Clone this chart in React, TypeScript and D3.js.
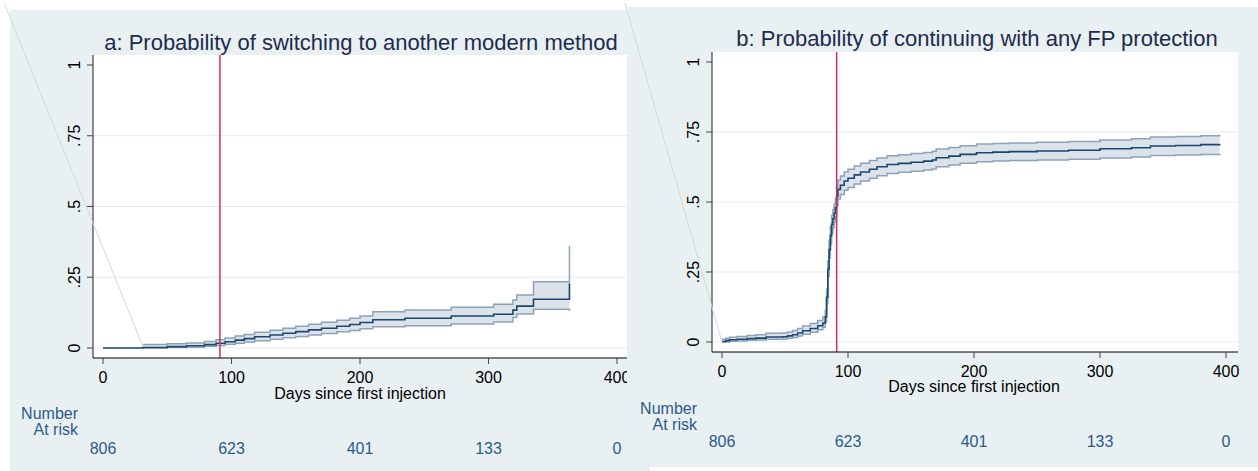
import React from "react";
import * as d3 from "d3";

// Panel a: cumulative probability of switching to another modern method
const switchDays = [0, 31, 50, 65, 79, 88, 95, 103, 110, 118, 130, 140, 150, 160, 170, 182, 192, 200, 210, 235, 271, 304, 319, 322, 335, 363];
const switchEst = [0, 0.002, 0.005, 0.008, 0.012, 0.017, 0.022, 0.028, 0.033, 0.04, 0.046, 0.052, 0.058, 0.064, 0.07, 0.077, 0.083, 0.09, 0.1, 0.105, 0.113, 0.119, 0.134, 0.148, 0.172, 0.229];
const switchLo = [null, 0.0, 0.002, 0.003, 0.006, 0.009, 0.013, 0.017, 0.021, 0.026, 0.031, 0.036, 0.041, 0.046, 0.051, 0.057, 0.062, 0.068, 0.075, 0.079, 0.085, 0.092, 0.108, 0.12, 0.137, 0.131];
const switchHi = [null, 0.012, 0.015, 0.018, 0.023, 0.029, 0.035, 0.042, 0.048, 0.056, 0.063, 0.07, 0.077, 0.084, 0.091, 0.098, 0.105, 0.113, 0.128, 0.134, 0.144, 0.155, 0.17, 0.187, 0.234, 0.36];

// Panel b: cumulative probability of continuing with any FP protection
const contDays = [0, 3, 6, 12, 20, 27, 35, 48, 52, 56, 60, 64, 70, 76, 80, 82, 83, 84, 85, 86, 87, 88, 89, 90, 91, 92, 94, 97, 100, 105, 110, 117, 123, 131, 140, 150, 160, 167, 170, 180, 189, 202, 215, 228, 250, 275, 300, 325, 340, 360, 380, 395];
const contEst = [0.002, 0.005, 0.008, 0.01, 0.012, 0.014, 0.018, 0.019, 0.022, 0.026, 0.032, 0.04, 0.048, 0.058, 0.068, 0.09, 0.16, 0.26, 0.33, 0.38, 0.42, 0.44, 0.46, 0.48, 0.52, 0.545, 0.56, 0.575, 0.585, 0.597, 0.607, 0.617, 0.626, 0.634, 0.638, 0.642, 0.646, 0.65, 0.658, 0.664, 0.67, 0.676, 0.678, 0.68, 0.682, 0.685, 0.69, 0.694, 0.7, 0.702, 0.705, 0.707];
const contLo = [0.0, 0.001, 0.003, 0.004, 0.006, 0.007, 0.01, 0.011, 0.013, 0.016, 0.021, 0.028, 0.035, 0.044, 0.052, 0.072, 0.137, 0.233, 0.3, 0.35, 0.389, 0.408, 0.428, 0.447, 0.487, 0.511, 0.527, 0.542, 0.552, 0.564, 0.575, 0.585, 0.594, 0.602, 0.606, 0.61, 0.614, 0.618, 0.626, 0.632, 0.638, 0.644, 0.646, 0.648, 0.65, 0.653, 0.657, 0.661, 0.666, 0.668, 0.67, 0.672];
const contHi = [0.01, 0.013, 0.017, 0.02, 0.023, 0.026, 0.031, 0.032, 0.036, 0.041, 0.048, 0.057, 0.066, 0.077, 0.089, 0.113, 0.188, 0.29, 0.363, 0.412, 0.452, 0.472, 0.492, 0.513, 0.553, 0.578, 0.593, 0.607, 0.617, 0.629, 0.638, 0.648, 0.657, 0.665, 0.669, 0.673, 0.677, 0.681, 0.689, 0.695, 0.701, 0.707, 0.709, 0.711, 0.713, 0.716, 0.721, 0.726, 0.732, 0.734, 0.737, 0.74];

// Axes, risk table and reference line
const xTicks = [0, 100, 200, 300, 400];
const yTicks = [0, 0.25, 0.5, 0.75, 1];
const yTickLabels = ["0", ".25", ".5", ".75", "1"];
const atRisk = [806, 623, 401, 133, 0];
const refDay = 91;

const titleA = "a: Probability of switching to another modern method";
const titleB = "b: Probability of continuing with any FP protection";
const xTitle = "Days since first injection";

const BG = "#e8f0f2";
const GRID = "#e3ebee";
const BAND_FILL = "#dce2ea";
const BAND_EDGE = "#8ea2b7";
const LINE = "#1a476f";
const REF = "#cf2f56";
const RISK = "#2d5b8a";
const TITLE = "#1f2b4d";
const FONT = "'Liberation Sans', Arial, Helvetica, sans-serif";

type Pt = { d: number; e: number; lo: number | null; hi: number | null };

function zip(days: number[], est: number[], lo: (number | null)[], hi: (number | null)[]): Pt[] {
  return days.map((d, i) => ({ d, e: est[i], lo: lo[i], hi: hi[i] }));
}

type Layout = {
  id: string;
  title: string;
  titleX: number;
  titleY: number;
  left: number;
  right: number;
  top: number;
  axisY: number;
  x0: number;
  x400: number;
  y0: number;
  y1: number;
  tickLabelY: number;
  xTitleY: number;
  riskLabelX: number;
  numberY: number;
  atRiskY: number;
  riskY: number;
  clipRight: number;
};

function Panel({ L, pts }: { L: Layout; pts: Pt[] }) {
  const x = d3.scaleLinear().domain([0, 400]).range([L.x0, L.x400]);
  const y = d3.scaleLinear().domain([0, 1]).range([L.y0, L.y1]);

  const banded = pts.filter((p) => p.lo != null && p.hi != null);
  const area = d3
    .area<Pt>()
    .curve(d3.curveStepAfter)
    .x((p) => x(p.d))
    .y0((p) => y(p.lo as number))
    .y1((p) => y(p.hi as number));
  const lineOf = (acc: (p: Pt) => number) =>
    d3.line<Pt>().curve(d3.curveStepAfter).x((p) => x(p.d)).y((p) => y(acc(p)));

  const tickLen = 6;
  return (
    <g>
      <defs>
        <clipPath id={`clip-${L.id}`}>
          <rect x={0} y={0} width={L.clipRight} height={471} />
        </clipPath>
      </defs>
      <g clipPath={`url(#clip-${L.id})`}>
        <rect x={L.left} y={L.top} width={L.right - L.left} height={L.axisY - L.top} fill="#fff" />
        {yTicks.slice(0, 4).map((t) => (
          <line key={t} x1={L.left} x2={L.right} y1={y(t)} y2={y(t)} stroke={GRID} strokeWidth={1.2} />
        ))}
        <path d={area(banded) || ""} fill={BAND_FILL} />
        <path d={lineOf((p) => p.lo as number)(banded) || ""} fill="none" stroke={BAND_EDGE} strokeWidth={1.5} />
        <path d={lineOf((p) => p.hi as number)(banded) || ""} fill="none" stroke={BAND_EDGE} strokeWidth={1.5} />
        <path d={lineOf((p) => p.e)(pts) || ""} fill="none" stroke={LINE} strokeWidth={1.6} />
        <line x1={x(refDay)} x2={x(refDay)} y1={L.top} y2={L.axisY} stroke={REF} strokeWidth={1.5} />

        {/* y axis */}
        <line x1={L.left} x2={L.left} y1={L.top} y2={L.axisY} stroke="#444" strokeWidth={1.2} />
        {yTicks.map((t, i) => (
          <g key={t}>
            <line x1={L.left - tickLen} x2={L.left} y1={y(t)} y2={y(t)} stroke="#444" strokeWidth={1} />
            <text
              transform={`translate(${L.left - 13},${y(t)}) rotate(-90)`}
              textAnchor="middle"
              fontSize={16}
              fontFamily={FONT}
              fill="#000"
            >
              {yTickLabels[i]}
            </text>
          </g>
        ))}

        {/* x axis */}
        <line x1={L.left} x2={L.right} y1={L.axisY} y2={L.axisY} stroke="#000" strokeWidth={1.2} />
        {xTicks.map((t) => (
          <g key={t}>
            <line x1={x(t)} x2={x(t)} y1={L.axisY} y2={L.axisY + tickLen} stroke="#444" strokeWidth={1} />
            <text x={x(t)} y={L.tickLabelY} textAnchor="middle" fontSize={16} fontFamily={FONT} fill="#000">
              {t}
            </text>
          </g>
        ))}
        <text x={x(200)} y={L.xTitleY} textAnchor="middle" fontSize={16} fontFamily={FONT} fill="#000">
          {xTitle}
        </text>

        {/* number at risk */}
        <text x={L.riskLabelX} y={L.numberY} textAnchor="end" fontSize={16} fontFamily={FONT} fill={RISK}>
          Number
        </text>
        <text x={L.riskLabelX} y={L.atRiskY} textAnchor="end" fontSize={16} fontFamily={FONT} fill={RISK}>
          At risk
        </text>
        {xTicks.map((t, i) => (
          <text key={t} x={x(t)} y={L.riskY} textAnchor="middle" fontSize={16} fontFamily={FONT} fill={RISK}>
            {atRisk[i]}
          </text>
        ))}

        <text x={L.titleX} y={L.titleY} textAnchor="middle" fontSize={22} fontFamily={FONT} fill={TITLE}>
          {L.title}
        </text>
      </g>
    </g>
  );
}

const layoutA: Layout = {
  id: "a",
  title: titleA,
  titleX: 361,
  titleY: 50,
  left: 93,
  right: 627,
  top: 55,
  axisY: 358,
  x0: 103,
  x400: 617,
  y0: 348,
  y1: 65,
  tickLabelY: 383,
  xTitleY: 399,
  riskLabelX: 78,
  numberY: 419,
  atRiskY: 435,
  riskY: 454,
  clipRight: 627,
};

const layoutB: Layout = {
  id: "b",
  title: titleB,
  titleX: 977,
  titleY: 46,
  left: 712,
  right: 1238,
  top: 52,
  axisY: 352,
  x0: 722,
  x400: 1226,
  y0: 342,
  y1: 62,
  tickLabelY: 377,
  xTitleY: 392,
  riskLabelX: 697,
  numberY: 414,
  atRiskY: 430,
  riskY: 447,
  clipRight: 1258,
};

export default function App() {
  const ptsA = zip(switchDays, switchEst, switchLo, switchHi);
  const ptsB = zip(contDays, contEst, contLo, contHi);
  return (
    <svg
      width={1258}
      height={471}
      style={{ position: "absolute", left: 0, top: 0, background: "#fff" }}
      fontFamily={FONT}
    >
      {/* graph regions */}
      <rect x={10} y={10} width={618} height={461} fill={BG} />
      <rect x={628} y={7} width={630} height={460} fill={BG} />
      <rect x={628} y={467} width={22} height={4} fill={BG} />
      <Panel L={layoutA} pts={ptsA} />
      <Panel L={layoutB} pts={ptsB} />
      {/* faint diagonal strokes across the region edges */}
      <line x1={5} y1={5} x2={143} y2={347} stroke="#d3d8dd" strokeWidth={1} />
      <line x1={625} y1={3} x2={722} y2={342} stroke="#d3d8dd" strokeWidth={1} />
    </svg>
  );
}
